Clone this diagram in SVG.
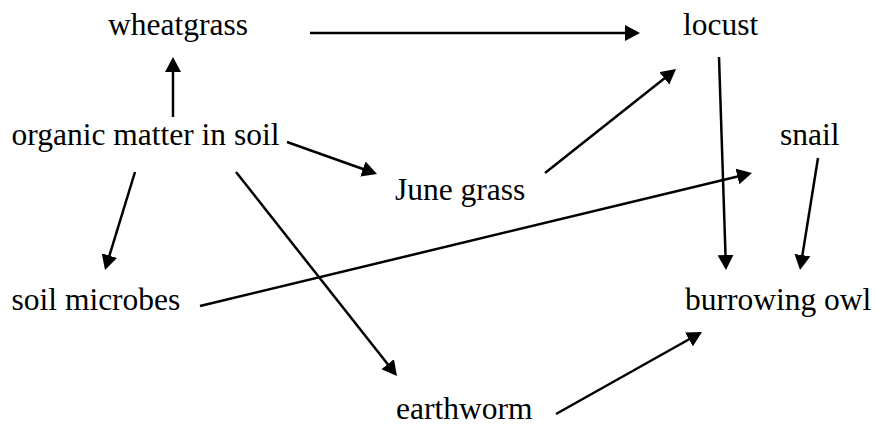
<svg xmlns="http://www.w3.org/2000/svg" width="875" height="426" viewBox="0 0 875 426">
<style>
text{font-family:"Liberation Serif","Times New Roman","DejaVu Serif",serif;font-size:31.5px;fill:#000}
.c line{stroke:#000;stroke-width:2.5;fill:none;marker-end:url(#ah)}
</style>
<defs>
<marker id="ah" viewBox="0 0 15 16" refX="12" refY="8" markerWidth="15" markerHeight="16" markerUnits="userSpaceOnUse" orient="auto">
<path d="M0,0 L15,8 L0,16 z" fill="#000"/>
</marker>
</defs>
<rect width="875" height="426" fill="#fff"/>
<g id="connectors" class="c">
<line x1="310" y1="33" x2="637" y2="33"/>
<line x1="173" y1="117" x2="173" y2="60"/>
<line x1="287" y1="142" x2="374.2" y2="173"/>
<line x1="135" y1="172" x2="105.9" y2="267.1"/>
<line x1="236" y1="172" x2="395.1" y2="373.6"/>
<line x1="545" y1="173" x2="673.7" y2="70.9"/>
<line x1="200" y1="306" x2="749.1" y2="173.7"/>
<line x1="719" y1="57" x2="725.9" y2="267"/>
<line x1="818" y1="158" x2="800.5" y2="267"/>
<line x1="556" y1="414" x2="699.4" y2="333.5"/>
</g>
<g id="wheatgrass"><text x="108" y="35">wheatgrass</text></g>
<g id="locust"><text x="683" y="35">locust</text></g>
<g id="organic"><text x="11.5" y="145">organic matter in soil</text></g>
<g id="snail"><text x="780" y="145">snail</text></g>
<g id="junegrass"><text x="395" y="200">June grass</text></g>
<g id="microbes"><text x="11.5" y="310">soil microbes</text></g>
<g id="owl"><text x="685" y="310">burrowing owl</text></g>
<g id="earthworm"><text x="396" y="419">earthworm</text></g>
</svg>
